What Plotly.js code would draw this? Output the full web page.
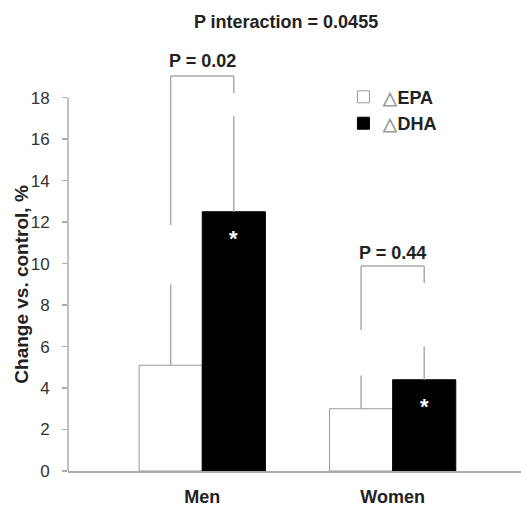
<!DOCTYPE html>
<html>
<head>
<meta charset="utf-8">
<script src="https://cdn.plot.ly/plotly-3.0.1.min.js"></script>
<style>html,body{margin:0;padding:0;background:#fff;}#chart{width:521px;height:506px;}</style>
</head>
<body>
<div id="chart"></div>
<script>
// ---- data ----
const categories = ['Men', 'Women'];
const seriesNames = ['EPA', 'DHA'];
const epaValues = [5.1, 3.0];
const epaErrors = [3.9, 1.6];
const dhaValues = [12.5, 4.4];
const dhaErrors = [4.6, 1.6];
const pLabels = ['P = 0.02', 'P = 0.44'];
const pLabelY = [19.75, 10.5];
const bracketTop = [19.05, 9.88];
const bracketLeftEnd = [11.86, 6.8];
const bracketRightEnd = [18.23, 9.06];
const significant = [true, true];
const titleText = 'P interaction = 0.0455';
const yTitle = 'Change vs. control, %';
const yTicks = [0, 2, 4, 6, 8, 10, 12, 14, 16, 18];

// ---- style ----
const FONT = 'Liberation Sans, Arial, sans-serif';
const GRAY = '#ababab';
const BARGAP = 0.337;
const half = (1 - BARGAP) / 4; // offset of each bar centre from category centre
const delta = n => '<b><span style="color:#9a9a9a">\u25B3</span>' + n + '</b>';

const traces = [
  {
    type: 'bar', name: delta(seriesNames[0]), x: categories, y: epaValues,
    marker: {color: '#ffffff', line: {color: '#999999', width: 1}},
    error_y: {type: 'data', symmetric: false, array: epaErrors, arrayminus: epaErrors.map(() => 0),
              color: GRAY, thickness: 1.5, width: 0}
  },
  {
    type: 'bar', name: delta(seriesNames[1]), x: categories, y: dhaValues,
    marker: {color: '#000000', line: {color: '#000000', width: 1}},
    error_y: {type: 'data', symmetric: false, array: dhaErrors, arrayminus: dhaErrors.map(() => 0),
              color: GRAY, thickness: 1.5, width: 0}
  }
];

const shapes = [
  // y axis line (only up to 18)
  {type: 'line', xref: 'paper', yref: 'y', x0: 0, x1: 0, y0: 0, y1: yTicks[yTicks.length - 1],
   line: {color: GRAY, width: 1.5}}
];
const annotations = [
  {xref: 'paper', yref: 'y', x: -0.103, y: yTicks[yTicks.length - 1] / 2, text: '<b>' + yTitle + '</b>',
   textangle: -90, showarrow: false, xanchor: 'center', yanchor: 'middle',
   font: {family: FONT, size: 19, color: '#222'}}
];
categories.forEach((c, i) => {
  const xl = i - half, xr = i + half;
  shapes.push({type: 'line', xref: 'x', yref: 'y', x0: xl, x1: xl, y0: bracketLeftEnd[i], y1: bracketTop[i], line: {color: GRAY, width: 1.5}});
  shapes.push({type: 'line', xref: 'x', yref: 'y', x0: xl, x1: xr, y0: bracketTop[i], y1: bracketTop[i], line: {color: GRAY, width: 1.5}});
  shapes.push({type: 'line', xref: 'x', yref: 'y', x0: xr, x1: xr, y0: bracketTop[i], y1: bracketRightEnd[i], line: {color: GRAY, width: 1.5}});
  annotations.push({xref: 'x', yref: 'y', x: i, y: pLabelY[i], text: '<b>' + pLabels[i] + '</b>', showarrow: false,
    font: {family: FONT, size: 18, color: '#222'}});
  if (significant[i]) {
    annotations.push({xref: 'x', yref: 'y', x: xr, y: dhaValues[i] - 1.3, text: '<b>*</b>', showarrow: false,
      font: {family: FONT, size: 22, color: '#ffffff'}});
  }
});

const layout = {
  width: 521, height: 506,
  margin: {l: 68, r: 0, t: 50, b: 35, pad: 0},
  paper_bgcolor: '#fff', plot_bgcolor: '#fff',
  font: {family: FONT, color: '#222'},
  title: {text: '<b>' + titleText + '</b>', font: {family: FONT, size: 18, color: '#222'},
          x: 0.549, xanchor: 'center', y: 0.958, yanchor: 'middle'},
  barmode: 'group', bargap: BARGAP, bargroupgap: 0,
  showlegend: true,
  legend: {x: 0.608, y: 0.932, xanchor: 'left', yanchor: 'top', bgcolor: 'rgba(0,0,0,0)',
           font: {family: FONT, size: 18, color: '#222'}, tracegroupgap: 0},
  xaxis: {range: [-0.705, 1.674], showline: true, linecolor: GRAY, linewidth: 1.5, ticks: '',
          showgrid: false, zeroline: false, fixedrange: true, ticklabelstandoff: 9,
          tickfont: {family: FONT, size: 18, color: '#222'},
          tickvals: categories, ticktext: categories.map(c => '<b>' + c + '</b>')},
  yaxis: {range: [0, 20.3], tickvals: yTicks, showline: false, ticks: 'outside', ticklen: 5,
          tickcolor: GRAY, tickwidth: 1.5, showgrid: false, zeroline: false, ticklabelstandoff: 9,
          tickfont: {family: FONT, size: 17, color: '#333'}},
  shapes: shapes,
  annotations: annotations
};

Plotly.newPlot('chart', traces, layout, {displayModeBar: false, staticPlot: true});
</script>
</body>
</html>
